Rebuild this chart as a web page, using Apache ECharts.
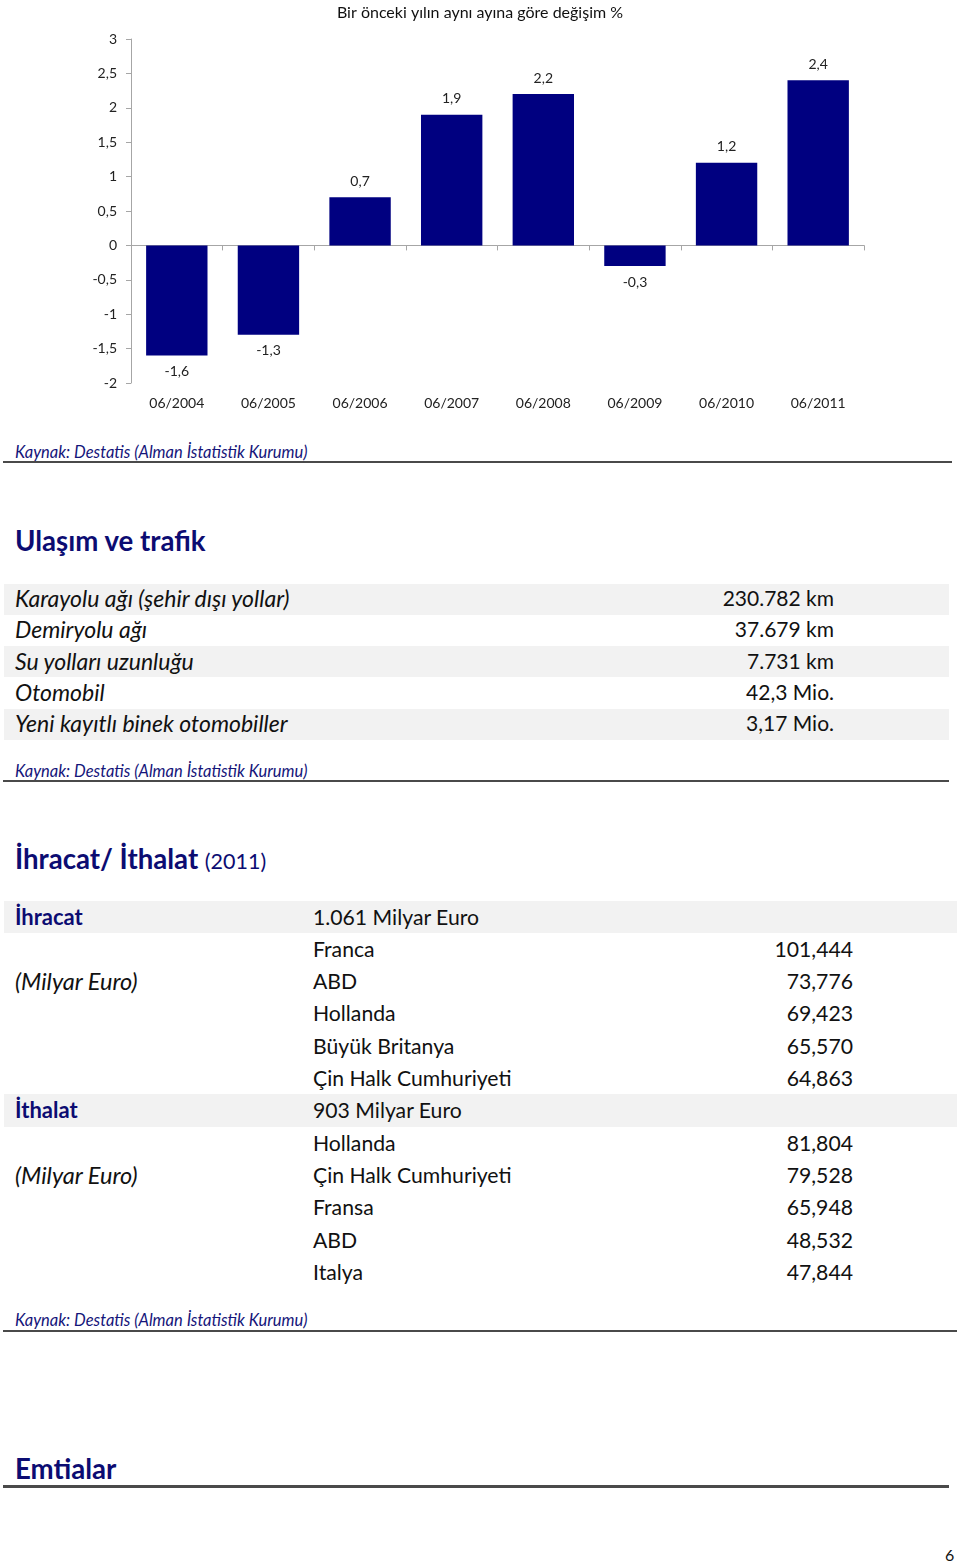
<!DOCTYPE html>
<html>
<head>
<meta charset="utf-8">
<script src="https://cdn.jsdelivr.net/npm/echarts@6/dist/echarts.min.js"></script>
<style>
  html, body { margin: 0; padding: 0; background: #fff; }
  body { width: 960px; height: 1563px; position: relative; overflow: hidden; font-family: Lato, "Open Sans", sans-serif; color: #111; }
  .abs { position: absolute; white-space: nowrap; }
  .src { font-style: italic; font-size: 16.5px; color: #15157a; line-height: 20px; }
  .rule { position: absolute; height: 2px; background: #4a4a4a; }
  .h { font-weight: bold; color: #0c0c72; font-size: 27.6px; line-height: 34px; }
  .bg { position: absolute; background: #f2f2f2; }
  .t1 { font-size: 21px; line-height: 28px; }
  .t2 { font-size: 21.2px; line-height: 28px; }
</style>
</head>
<body>
<div id="chart" class="abs" style="left:0;top:0;width:960px;height:425px;"></div>
<div id="page"></div>
<script>
// ---- chart data ----
const chartTitle = 'Bir önceki yılın aynı ayına göre değişim %';
const categories = ['06/2004', '06/2005', '06/2006', '06/2007', '06/2008', '06/2009', '06/2010', '06/2011'];
const changeValues = [-1.6, -1.3, 0.7, 1.9, 2.2, -0.3, 1.2, 2.4];

// ---- page text data ----
const sourceText = 'Kaynak: Destatis (Alman İstatistik Kurumu)';
const trafficLabels = ['Karayolu ağı (şehir dışı yollar)', 'Demiryolu ağı', 'Su yolları uzunluğu', 'Otomobil', 'Yeni kayıtlı binek otomobiller'];
const trafficValues = ['230.782 km', '37.679 km', '7.731 km', '42,3 Mio.', '3,17 Mio.'];
const exportTotal = '1.061 Milyar Euro';
const exportCountries = ['Franca', 'ABD', 'Hollanda', 'Büyük Britanya', 'Çin Halk Cumhuriyeti'];
const exportValues = ['101,444', '73,776', '69,423', '65,570', '64,863'];
const importTotal = '903 Milyar Euro';
const importCountries = ['Hollanda', 'Çin Halk Cumhuriyeti', 'Fransa', 'ABD', 'Italya'];
const importValues = ['81,804', '79,528', '65,948', '48,532', '47,844'];

const FONT = 'Lato, "Open Sans", sans-serif';
const comma = v => String(v).replace('.', ',');

const chart = echarts.init(document.getElementById('chart'), null, { renderer: 'canvas' });
chart.setOption({
  animation: false,
  title: {
    text: chartTitle, left: 'center', top: 0,
    textStyle: { fontFamily: FONT, fontSize: 16, fontWeight: 'normal', color: '#111' }
  },
  grid: { left: 131, right: 96, top: 39, bottom: 42, containLabel: false },
  xAxis: [
    {
      type: 'category', data: categories, position: 'bottom',
      axisLine: { onZero: true, lineStyle: { color: '#a6a6a6', width: 1 } },
      axisTick: { show: true, length: 5, lineStyle: { color: '#a6a6a6' } },
      axisLabel: { show: false }, splitLine: { show: false }
    },
    {
      type: 'category', data: categories, position: 'bottom', offset: 0,
      axisLine: { show: false, onZero: false }, axisTick: { show: false },
      axisLabel: { show: true, margin: 13, fontFamily: FONT, fontSize: 14, color: '#222' },
      splitLine: { show: false }
    }
  ],
  yAxis: {
    type: 'value', min: -2, max: 3, interval: 0.5,
    axisLine: { show: true, lineStyle: { color: '#a6a6a6', width: 1 } },
    axisTick: { show: true, length: 5, lineStyle: { color: '#a6a6a6' } },
    splitLine: { show: false },
    axisLabel: { formatter: v => comma(v), margin: 14, fontFamily: FONT, fontSize: 14, color: '#222' }
  },
  series: [{
    type: 'bar', xAxisIndex: 0,
    barCategoryGap: '33%',
    itemStyle: { color: '#000080' },
    data: changeValues.map(v => ({ value: v, label: { position: v >= 0 ? 'top' : 'bottom' } })),
    label: {
      show: true, distance: 9, fontFamily: FONT, fontSize: 14, color: '#222',
      formatter: p => comma(p.value)
    }
  }]
});

// ---- page layout ----
const page = document.getElementById('page');
function add(cls, text, style) {
  const d = document.createElement('div');
  d.className = 'abs ' + cls;
  d.textContent = text;
  Object.assign(d.style, style);
  page.appendChild(d);
  return d;
}
function rule(y, x1, x2, h) {
  const d = document.createElement('div');
  d.className = 'rule';
  Object.assign(d.style, { top: y + 'px', left: x1 + 'px', width: (x2 - x1) + 'px', height: (h || 2) + 'px' });
  page.appendChild(d);
}
function bg(y1, y2, x1, x2) {
  const d = document.createElement('div');
  d.className = 'bg';
  Object.assign(d.style, { top: y1 + 'px', left: x1 + 'px', width: (x2 - x1) + 'px', height: (y2 - y1) + 'px' });
  page.appendChild(d);
}
function textAt(cls, text, x, cy, lh, extra) {
  return add(cls, text, Object.assign({ left: x + 'px', top: (cy - lh / 2) + 'px' }, extra || {}));
}
function textRight(cls, text, xr, cy, lh) {
  return add(cls, text, { right: (960 - xr) + 'px', top: (cy - lh / 2) + 'px', textAlign: 'right' });
}

// source 1
textAt('src', sourceText, 15, 452, 20);
rule(461, 3, 952, 2);

// Ulaşım ve trafik
textAt('h', 'Ulaşım ve trafik', 15, 541, 34);
const t1Centers = [598, 629, 661, 692, 723];
[[584, 615], [646, 677], [709, 740]].forEach(r => bg(r[0], r[1], 4, 949));
trafficLabels.forEach((s, i) => textAt('t1', s, 15, t1Centers[i], 28, { fontStyle: 'italic', fontSize: '23px' }));
trafficValues.forEach((s, i) => textRight('t1', s, 834, t1Centers[i], 28));

textAt('src', sourceText, 15, 771, 20);
rule(780, 3, 949, 2);

// İhracat / İthalat
const h2 = textAt('h', 'İhracat/ İthalat ', 15, 859, 34);
const small = document.createElement('span');
small.textContent = '(2011)';
Object.assign(small.style, { fontWeight: 'normal', fontSize: '21.5px' });
h2.appendChild(small);

const rowCenters = [917, 949, 981, 1013, 1046, 1078, 1110, 1143, 1175, 1207, 1240, 1272];
bg(901, 933, 4, 957);
bg(1094, 1127, 4, 957);
textAt('t2', 'İhracat', 15, rowCenters[0], 28, { fontWeight: 'bold', color: '#0c0c72', fontSize: '22px' });
textAt('t2', '(Milyar Euro)', 15, rowCenters[2], 28, { fontStyle: 'italic', fontSize: '23.5px' });
textAt('t2', exportTotal, 313, rowCenters[0], 28);
exportCountries.forEach((s, i) => textAt('t2', s, 313, rowCenters[1 + i], 28));
exportValues.forEach((s, i) => textRight('t2', s, 853, rowCenters[1 + i], 28));
textAt('t2', 'İthalat', 15, rowCenters[6], 28, { fontWeight: 'bold', color: '#0c0c72', fontSize: '22px' });
textAt('t2', '(Milyar Euro)', 15, rowCenters[8], 28, { fontStyle: 'italic', fontSize: '23.5px' });
textAt('t2', importTotal, 313, rowCenters[6], 28);
importCountries.forEach((s, i) => textAt('t2', s, 313, rowCenters[7 + i], 28));
importValues.forEach((s, i) => textRight('t2', s, 853, rowCenters[7 + i], 28));

textAt('src', sourceText, 15, 1320, 20);
rule(1330, 3, 957, 2);

// Emtialar
textAt('h', 'Emtialar', 15, 1469, 34);
rule(1485, 3, 949, 3);

textAt('', '6', 945, 1555, 20, { fontSize: '16px', lineHeight: '20px' });
</script>
</body>
</html>
